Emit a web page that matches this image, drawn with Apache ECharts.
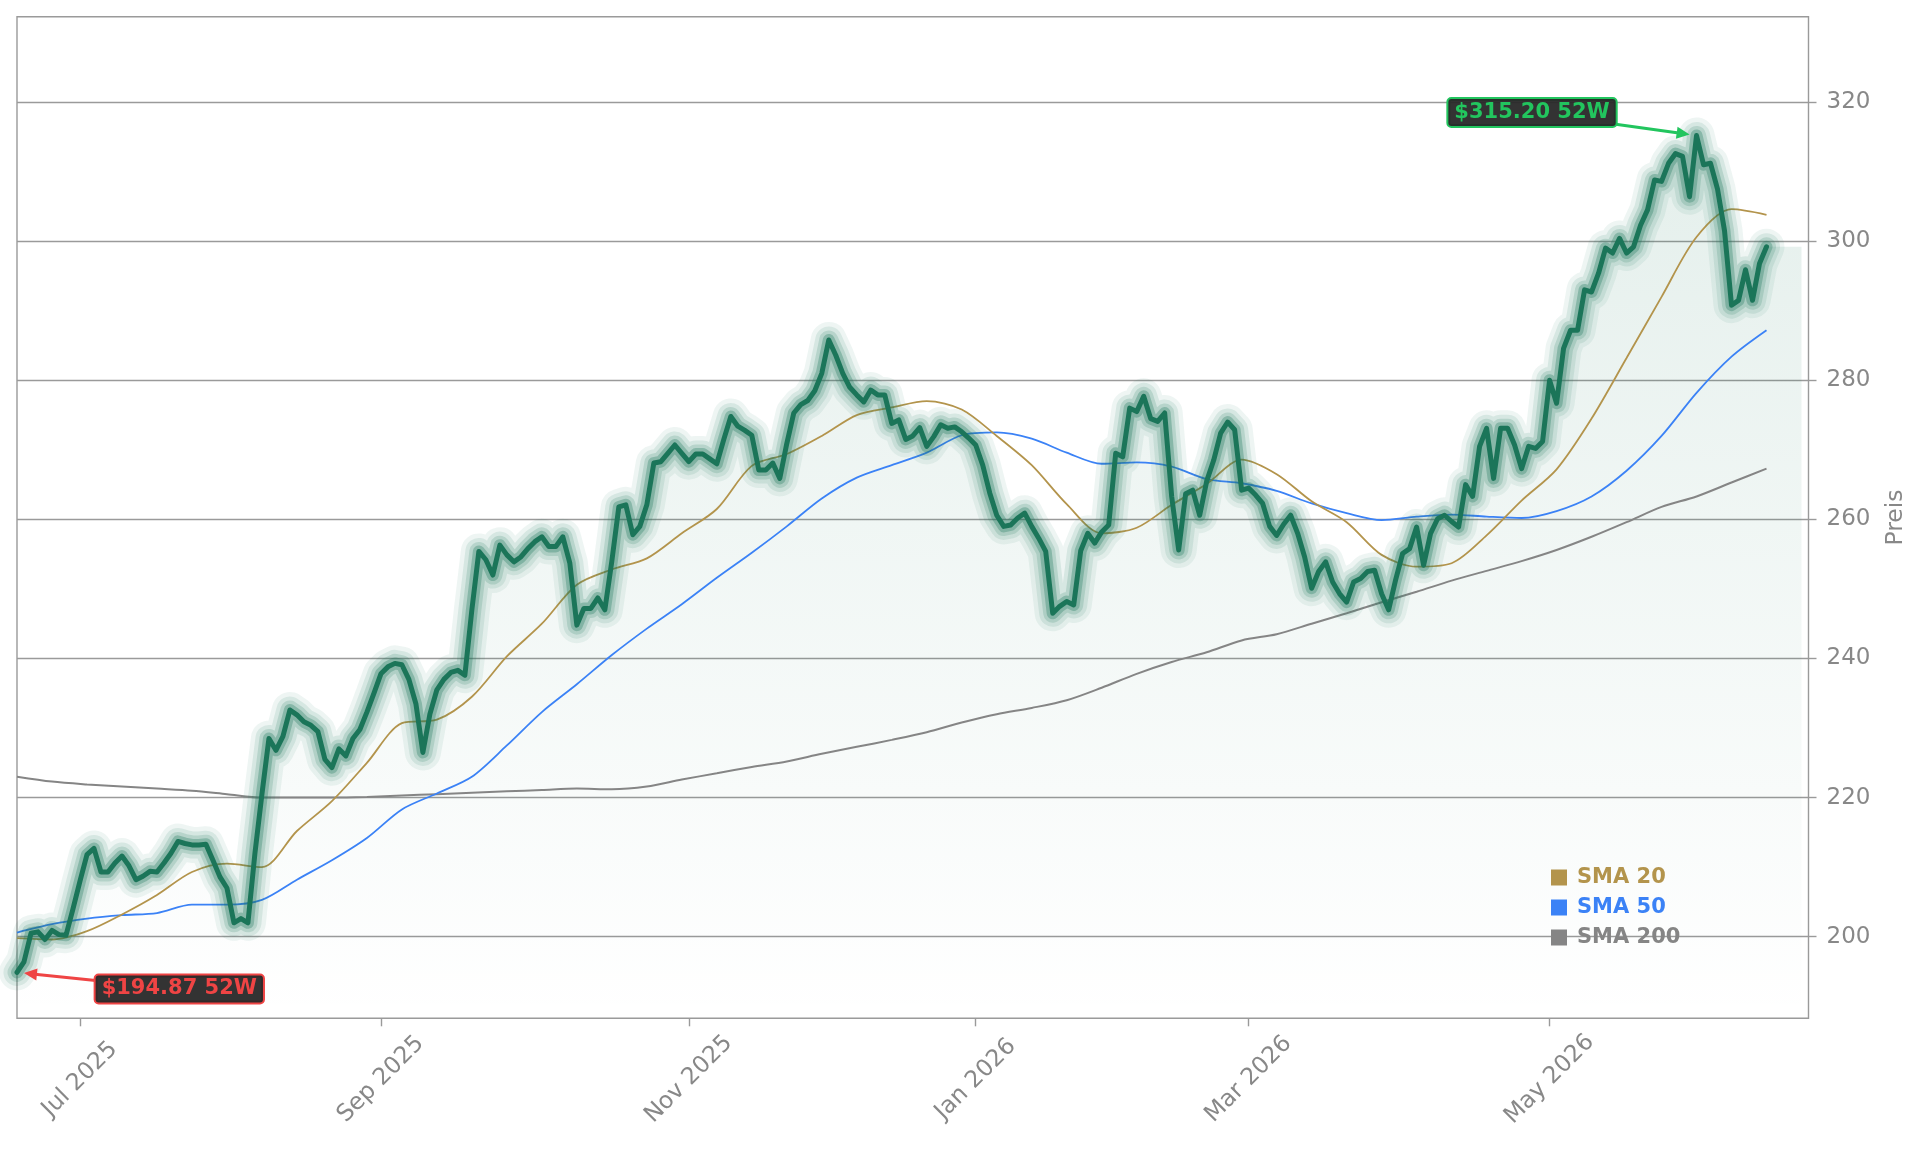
<!DOCTYPE html>
<html><head><meta charset="utf-8">
<script src="https://cdn.jsdelivr.net/npm/echarts@6/dist/echarts.min.js"></script>
<style>html,body{margin:0;padding:0;background:#fff}#c{width:1921px;height:1153px}</style>
</head><body><div id="c"></div>
<script>
// ---- data ----
const startDate = '2025-06-17';
const holidays = ['2025-06-19','2025-07-04','2025-09-01','2025-11-27','2025-12-25','2026-01-01','2026-01-19','2026-02-16','2026-04-03','2026-05-25','2026-06-19'];
const tickMonths = ['2025-07','2025-09','2025-11','2026-01','2026-03','2026-05'];
const tickLabels = ['Jul 2025','Sep 2025','Nov 2025','Jan 2026','Mar 2026','May 2026'];
const yTicks = [200,220,240,260,280,300,320];
const close = [
194.87,196.4,200.5,200.7,199.6,200.9,200.3,200.2,204.0,208.0,
211.8,212.7,209.3,209.3,210.6,211.6,210.2,208.2,208.7,209.4,
209.3,210.6,212.0,213.7,213.4,213.2,213.2,213.3,211.0,208.6,
207.0,202.0,202.6,202.0,212.0,220.5,228.5,226.8,228.8,232.6,
231.9,230.9,230.4,229.5,225.5,224.3,227.0,226.0,228.5,229.8,
232.3,235.0,237.8,238.8,239.3,239.1,237.0,233.5,226.5,232.0,
235.5,237.0,238.0,238.3,237.6,247.0,255.4,254.2,252.0,256.3,
254.9,253.9,254.6,255.8,256.8,257.5,256.1,256.1,257.5,253.7,
244.8,247.2,247.2,248.7,247.0,254.0,261.8,262.1,257.8,259.0,
262.1,268.1,268.3,269.5,270.7,269.5,268.3,269.4,269.4,268.7,
268.0,271.5,274.8,273.4,272.8,272.1,267.1,267.1,268.1,265.9,
270.9,275.3,276.5,277.1,278.5,281.0,285.8,283.6,281.0,279.0,
277.9,276.9,278.6,277.9,277.9,273.8,274.3,271.5,272.0,273.2,
270.5,271.9,273.6,273.1,273.3,272.6,271.7,270.7,267.8,263.8,
260.6,259.0,259.2,260.2,260.9,259.0,257.3,255.4,246.5,247.5,
248.2,247.7,255.5,258.0,256.6,258.2,259.2,269.5,269.0,276.0,
275.5,277.7,274.5,274.1,275.3,263.3,255.6,263.7,264.2,260.6,
265.5,268.5,272.4,274.0,272.9,264.2,264.5,263.5,262.3,259.0,
257.7,259.3,260.6,258.0,254.6,250.1,252.5,253.9,251.0,249.3,
248.1,251.0,251.5,252.5,252.7,249.3,247.0,251.3,255.1,255.8,
258.9,253.4,258.0,260.1,260.6,259.7,258.9,265.0,263.3,270.5,
273.1,265.9,273.1,273.1,270.7,267.3,270.5,270.2,271.2,280.0,
276.7,284.6,287.2,287.2,293.0,292.7,295.4,299.0,298.3,300.4,
298.3,299.2,302.3,304.5,308.8,308.6,311.2,312.6,312.2,306.4,
315.2,311.0,311.2,307.5,301.5,290.8,291.5,295.9,291.5,296.8,
299.2];
// moving averages, one reading every 5 trading days
const smaStep = 5;
const sma20 = [199.8,199.6,200.8,203.2,206.0,209.3,210.5,210.0,215.2,219.5,
225.0,230.7,231.2,234.5,240.3,245.0,250.6,252.8,254.4,258.0,
261.5,267.7,269.4,272.0,275.0,276.1,277.0,275.8,272.0,267.8,
262.2,258.0,258.8,262.1,265.1,268.6,266.5,262.6,259.6,254.9,
253.2,253.7,257.7,262.7,267.2,274.5,283.2,292.0,300.6,304.6,303.8];
const sma50 = [200.6,201.8,202.6,203.1,203.4,204.6,204.6,205.3,208.2,211.0,
214.2,218.3,220.6,223.0,227.5,232.3,236.3,240.5,244.3,247.8,
251.6,255.2,259.0,263.0,266.0,267.8,269.6,272.1,272.5,271.6,
269.6,268.0,268.2,267.6,265.8,265.2,264.1,262.3,260.9,259.9,
260.4,260.7,260.4,260.2,261.2,263.3,267.0,272.0,278.2,283.4,287.2];
const sma200 = [223.0,222.3,221.9,221.6,221.3,221.0,220.5,220.0,220.0,220.0,
220.1,220.3,220.5,220.7,220.9,221.1,221.3,221.2,221.6,222.6,
223.5,224.4,225.2,226.3,227.3,228.3,229.4,230.8,232.0,232.9,
234.0,235.8,237.8,239.5,240.9,242.6,243.5,245.0,246.5,248.1,
249.6,251.2,252.6,254.0,255.6,257.5,259.6,261.8,263.3,265.3,267.3];
const padDays = 6;   // empty trading days after the last close on the axis
const fillDays = 5;  // area continues flat for these days

// ---- build categories (NYSE trading days) ----
function fmt(d){return d.toISOString().slice(0,10);}
const dates = [];
{
  let d = new Date(startDate+'T00:00:00Z');
  const hol = new Set(holidays);
  while (dates.length < close.length + padDays) {
    const wd = d.getUTCDay();
    const s = fmt(d);
    if (wd !== 0 && wd !== 6 && !hol.has(s)) dates.push(s);
    d = new Date(d.getTime() + 86400000);
  }
}
const tickIdx = {};
tickMonths.forEach((m,k)=>{ const i = dates.findIndex(s=>s.startsWith(m)); tickIdx[i] = tickLabels[k]; });
const isTick = (i)=> tickIdx[i] !== undefined;

const lastClose = close[close.length-1];
const areaData = close.concat(Array(fillDays).fill(lastClose));
const smaPairs = arr => arr.map((v,i)=>[i*smaStep, v]);

const FONT = 'DejaVu Sans';
const GREEN = '#1b7559';
const C20 = '#b3944c', C50 = '#3b82f6', C200 = '#858585';

const chart = echarts.init(document.getElementById('c'), null, {renderer:'canvas'});
const glowW = [36, 27, 19, 12];
const glowA = [0.075, 0.11, 0.17, 0.30];
const glow = glowW.map((w,k)=>({
  type:'line', data: close, symbol:'none', silent:true, z: 3,
  lineStyle:{width:w, color:GREEN, opacity:glowA[k], cap:'round', join:'round'},
  animation:false
}));

chart.setOption({
  animation:false,
  backgroundColor:'#ffffff',
  grid:{left:17, right:112.5, top:16.7, bottom:134.7, show:true, borderColor:'#9a9a9a', borderWidth:1.4, backgroundColor:'transparent', containLabel:false, outerBoundsMode:'none'},
  xAxis:{
    type:'category', data:dates, boundaryGap:false,
    axisLine:{show:false},
    axisTick:{show:true, interval:(i)=>isTick(i), length:8, lineStyle:{color:'#9a9a9a', width:1.4}},
    axisLabel:{interval:(i)=>isTick(i), formatter:(v,i)=>tickIdx[i]||'', rotate:45, align:'center', verticalAlign:'middle', margin:61, color:'#888888', fontSize:23.5, fontFamily:FONT},
    splitLine:{show:false}
  },
  yAxis:{
    type:'value', position:'right', min:188.27, max:332.28, splitNumber:7, scale:true,
    name:'Preis', nameLocation:'middle', nameRotate:90, nameGap:75,
    nameTextStyle:{color:'#888888', fontSize:23.5, fontFamily:FONT},
    axisLine:{show:false},
    axisTick:{show:true, customValues:yTicks, length:8, lineStyle:{color:'#9a9a9a', width:1.4}},
    axisLabel:{customValues:yTicks, margin:18, color:'#888888', fontSize:23, fontFamily:FONT, padding:[5,0,0,0]},
    splitLine:{show:true, lineStyle:{color:'#9a9a9a', width:1.4}}
  },
  legend:{
    show:true, orient:'vertical', left:1551, top:867, padding:0, itemGap:9,
    itemWidth:16, itemHeight:16, icon:'rect',
    textStyle:{fontSize:21, fontWeight:'bold', fontFamily:FONT, lineHeight:16, padding:[0,0,0,5]},
    data:[
      {name:'SMA 20', itemStyle:{color:C20}, textStyle:{color:C20}},
      {name:'SMA 50', itemStyle:{color:C50}, textStyle:{color:C50}},
      {name:'SMA 200', itemStyle:{color:C200}, textStyle:{color:C200}}
    ],
    selectedMode:false
  },
  series:[
    {type:'line', name:'area', data:areaData, symbol:'none', z:1, lineStyle:{width:0},
     areaStyle:{color:new echarts.graphic.LinearGradient(0,0,0,1,[{offset:0,color:'rgba(26,120,90,0.17)'},{offset:1,color:'rgba(26,120,90,0.0)'}])}},
    {type:'line', name:'SMA 200', data:smaPairs(sma200), symbol:'none', smooth:0.3, z:2, color:C200, lineStyle:{width:2, color:C200}},
    {type:'line', name:'SMA 50', data:smaPairs(sma50), symbol:'none', smooth:0.3, z:2, color:C50, lineStyle:{width:1.8, color:C50}},
    {type:'line', name:'SMA 20', data:smaPairs(sma20), symbol:'none', smooth:0.3, z:2, color:C20, lineStyle:{width:1.8, color:C20}},
    ...glow,
    {type:'line', name:'Kurs', data:close, symbol:'none', z:4, lineStyle:{width:5, color:GREEN, cap:'round', join:'round'}}
  ]
});

// ---- 52W annotations ----
const ctx = document.createElement('canvas').getContext('2d');
function annotation(idx, val, offX, offY, color, text){
  const p = chart.convertToPixel({xAxisIndex:0, yAxisIndex:0}, [idx, val]);
  const cx = p[0] + offX, cy = p[1] + offY;
  ctx.font = 'bold 21px "' + FONT + '"';
  const tw = ctx.measureText(text).width;
  const hw = tw/2 + 6, hh = 14;
  const vx = p[0]-cx, vy = p[1]-cy;
  const t = Math.min(hw/Math.abs(vx), hh/Math.abs(vy));
  const sx = cx + vx*t, sy = cy + vy*t;
  const L = Math.hypot(vx, vy), ux = vx/L, uy = vy/L;
  const tipX = p[0] - ux*7, tipY = p[1] - uy*7;
  const headL = 13, headW = 6;
  const bx = tipX - ux*headL, by = tipY - uy*headL;
  return [
    {type:'line', z:100, shape:{x1:sx, y1:sy, x2:bx+ux*2, y2:by+uy*2}, style:{stroke:color, lineWidth:3}},
    {type:'polygon', z:100, shape:{points:[[tipX,tipY],[bx - uy*headW, by + ux*headW],[bx + uy*headW, by - ux*headW]]}, style:{fill:color}},
    {type:'text', z:101, x:cx, y:cy, style:{text:text, fill:color, font:'bold 21px "'+FONT+'"', align:'center', verticalAlign:'middle',
      backgroundColor:'rgba(40,40,40,0.95)', borderColor:color, borderWidth:2, borderRadius:3, padding:[2,6,2,6], lineHeight:23}}
  ];
}
const hiIdx = close.indexOf(Math.max(...close));
const loIdx = close.indexOf(Math.min(...close));
const els = [].concat(
  annotation(hiIdx, close[hiIdx], -164.5, -23, '#22c55e', '$' + close[hiIdx].toFixed(2) + ' 52W'),
  annotation(loIdx, close[loIdx], 162.3, 16.6, '#ef4444', '$' + close[loIdx].toFixed(2) + ' 52W')
);
chart.setOption({graphic:{elements:els}});
</script>
</body></html>
